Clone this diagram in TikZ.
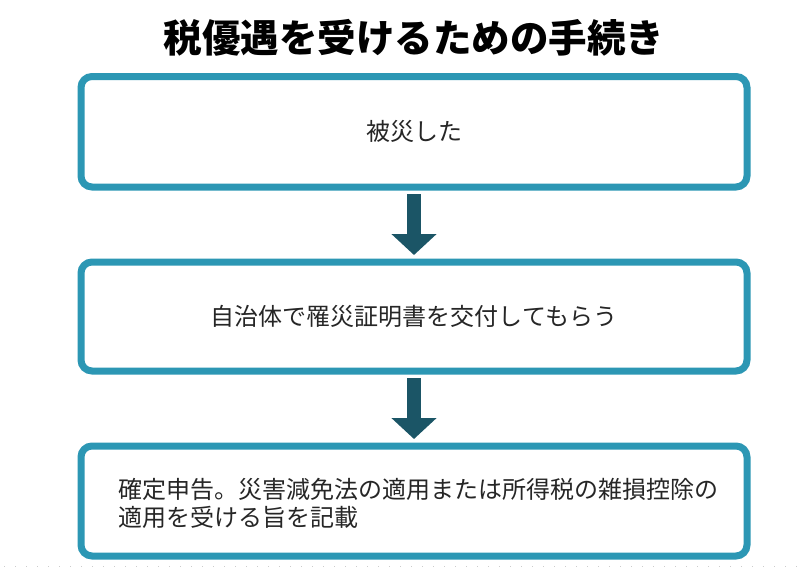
\documentclass[tikz,border=0pt]{standalone}
\usepackage{fontspec}
\usetikzlibrary{arrows.meta}
\newfontfamily\jp{Noto Sans CJK JP}
\definecolor{boxblue}{HTML}{2C97B4}
\definecolor{arrowteal}{HTML}{1B5566}
\begin{document}
\begin{tikzpicture}[x=1pt,y=-1pt,
  stepbox/.style={draw=boxblue, line width=7pt, rounded corners=11pt, fill=white,
    minimum width=666pt, inner sep=0pt, font=\jp\fontsize{24}{28}\selectfont, text=black!85},
  flowarrow/.style={draw=arrowteal, line width=14pt,
    -{Triangle[width=44pt,length=21pt]}}
]
\useasboundingbox (0,0) rectangle (800,571);
\fill[white] (0,0) rectangle (800,571);
\draw[black!20, line width=1pt, dash pattern=on 1pt off 10pt] (4,566) -- (800,566);

\node[font=\jp\bfseries\fontsize{38.5}{44}\selectfont, text=black] (title) at (414,38) {税優遇を受けるための手続き};

\node[stepbox, minimum height=110.5pt] (b1) at (414,131.75) {被災した};
\node[stepbox, minimum height=109pt] (b2) at (414,316.5) {自治体で罹災証明書を交付してもらう};
\node[stepbox, minimum height=110pt] (b3) at (414,501) {};
\node[anchor=west, align=left, inner sep=0pt, font=\jp\fontsize{24}{28}\selectfont, text=black!85]
  (t3) at ([xshift=40.5pt,yshift=-2pt]b3.west)
  {確定申告。災害減免法の適用または所得税の雑損控除の\\適用を受ける旨を記載};

\draw[flowarrow] ([yshift=-3.5pt]b1.south) -- ([yshift=3.5pt]b2.north);
\draw[flowarrow] ([yshift=-3.5pt]b2.south) -- ([yshift=3.5pt]b3.north);
\end{tikzpicture}
\end{document}
